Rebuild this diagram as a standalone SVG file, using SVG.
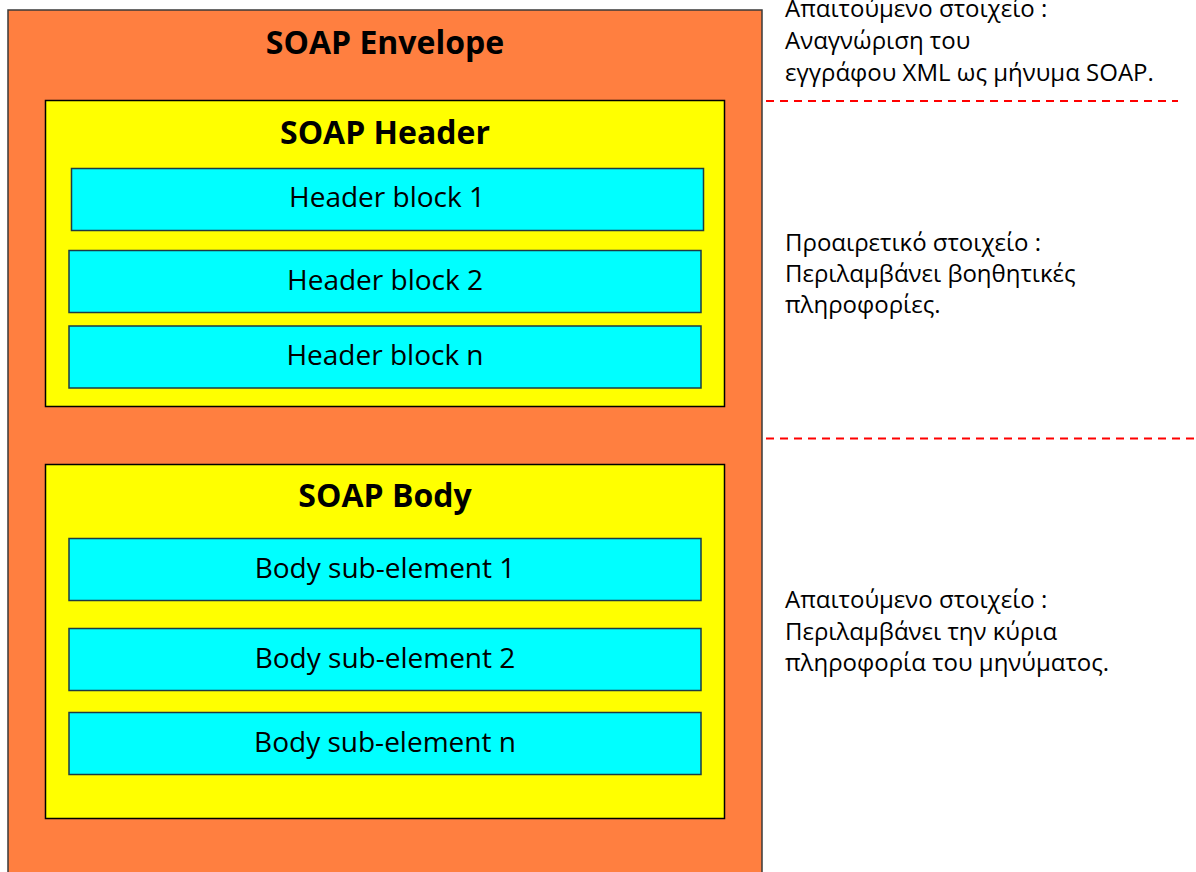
<svg xmlns="http://www.w3.org/2000/svg" width="1196" height="872" viewBox="0 0 1196 872">
<style>
.env{fill:#FF7F40;stroke:#3a3a3a;stroke-width:1.5}
.sec{fill:#FFFF00;stroke:#000;stroke-width:1.5}
.blk{fill:#00FFFF;stroke:#1d3b44;stroke-width:1.5}
.ttl{font-family:"Open Sans","Noto Sans",sans-serif;font-weight:bold;font-size:32px;fill:#000;text-anchor:middle}
.lbl{font-family:"Open Sans","Noto Sans",sans-serif;font-size:28px;fill:#000;text-anchor:middle}
.note{font-family:"Open Sans","Noto Sans",sans-serif;font-size:24px;fill:#000}
.sep{stroke:#FF0000;stroke-width:2;stroke-dasharray:8 6;fill:none}
</style>
<rect width="1196" height="872" fill="#fff"/>
<g id="envelope">
<rect class="env" x="8" y="10" width="754" height="875"/>
<text class="ttl" x="385" y="54">SOAP Envelope</text>
</g>
<g id="header">
<rect class="sec" x="45.5" y="100.5" width="679" height="306"/>
<text class="ttl" x="385" y="144">SOAP Header</text>
</g>
<g id="header-block-1">
<rect class="blk" x="71.5" y="168.5" width="632" height="62"/>
<text class="lbl" x="387" y="207">Header block 1</text>
</g>
<g id="header-block-2">
<rect class="blk" x="69" y="250.5" width="632" height="62"/>
<text class="lbl" x="385" y="290">Header block 2</text>
</g>
<g id="header-block-n">
<rect class="blk" x="69" y="326" width="632" height="62"/>
<text class="lbl" x="385" y="365">Header block n</text>
</g>
<g id="body">
<rect class="sec" x="45.5" y="464.5" width="679" height="354"/>
<text class="ttl" x="385" y="507">SOAP Body</text>
</g>
<g id="body-sub-1">
<rect class="blk" x="69" y="538.5" width="632" height="62"/>
<text class="lbl" x="385" y="578">Body sub-element 1</text>
</g>
<g id="body-sub-2">
<rect class="blk" x="69" y="628.5" width="632" height="62"/>
<text class="lbl" x="385" y="668">Body sub-element 2</text>
</g>
<g id="body-sub-n">
<rect class="blk" x="69" y="712.5" width="632" height="62"/>
<text class="lbl" x="385" y="752">Body sub-element n</text>
</g>
<g id="connectors">
<line class="sep" x1="766" y1="101" x2="1178" y2="101"/>
<line class="sep" x1="766" y1="438.5" x2="1194" y2="438.5"/>
</g>
<g id="note-envelope">
<text class="note" x="785" y="17">Απαιτούμενο στοιχείο :</text>
<text class="note" x="785" y="49">Αναγνώριση του</text>
<text class="note" x="785" y="81">εγγράφου XML ως μήνυμα SOAP.</text>
</g>
<g id="note-header">
<text class="note" x="785" y="251">Προαιρετικό στοιχείο :</text>
<text class="note" x="785" y="282">Περιλαμβάνει βοηθητικές</text>
<text class="note" x="785" y="313">πληροφορίες.</text>
</g>
<g id="note-body">
<text class="note" x="785" y="608">Απαιτούμενο στοιχείο :</text>
<text class="note" x="785" y="640">Περιλαμβάνει την κύρια</text>
<text class="note" x="785" y="671">πληροφορία του μηνύματος.</text>
</g>
</svg>
